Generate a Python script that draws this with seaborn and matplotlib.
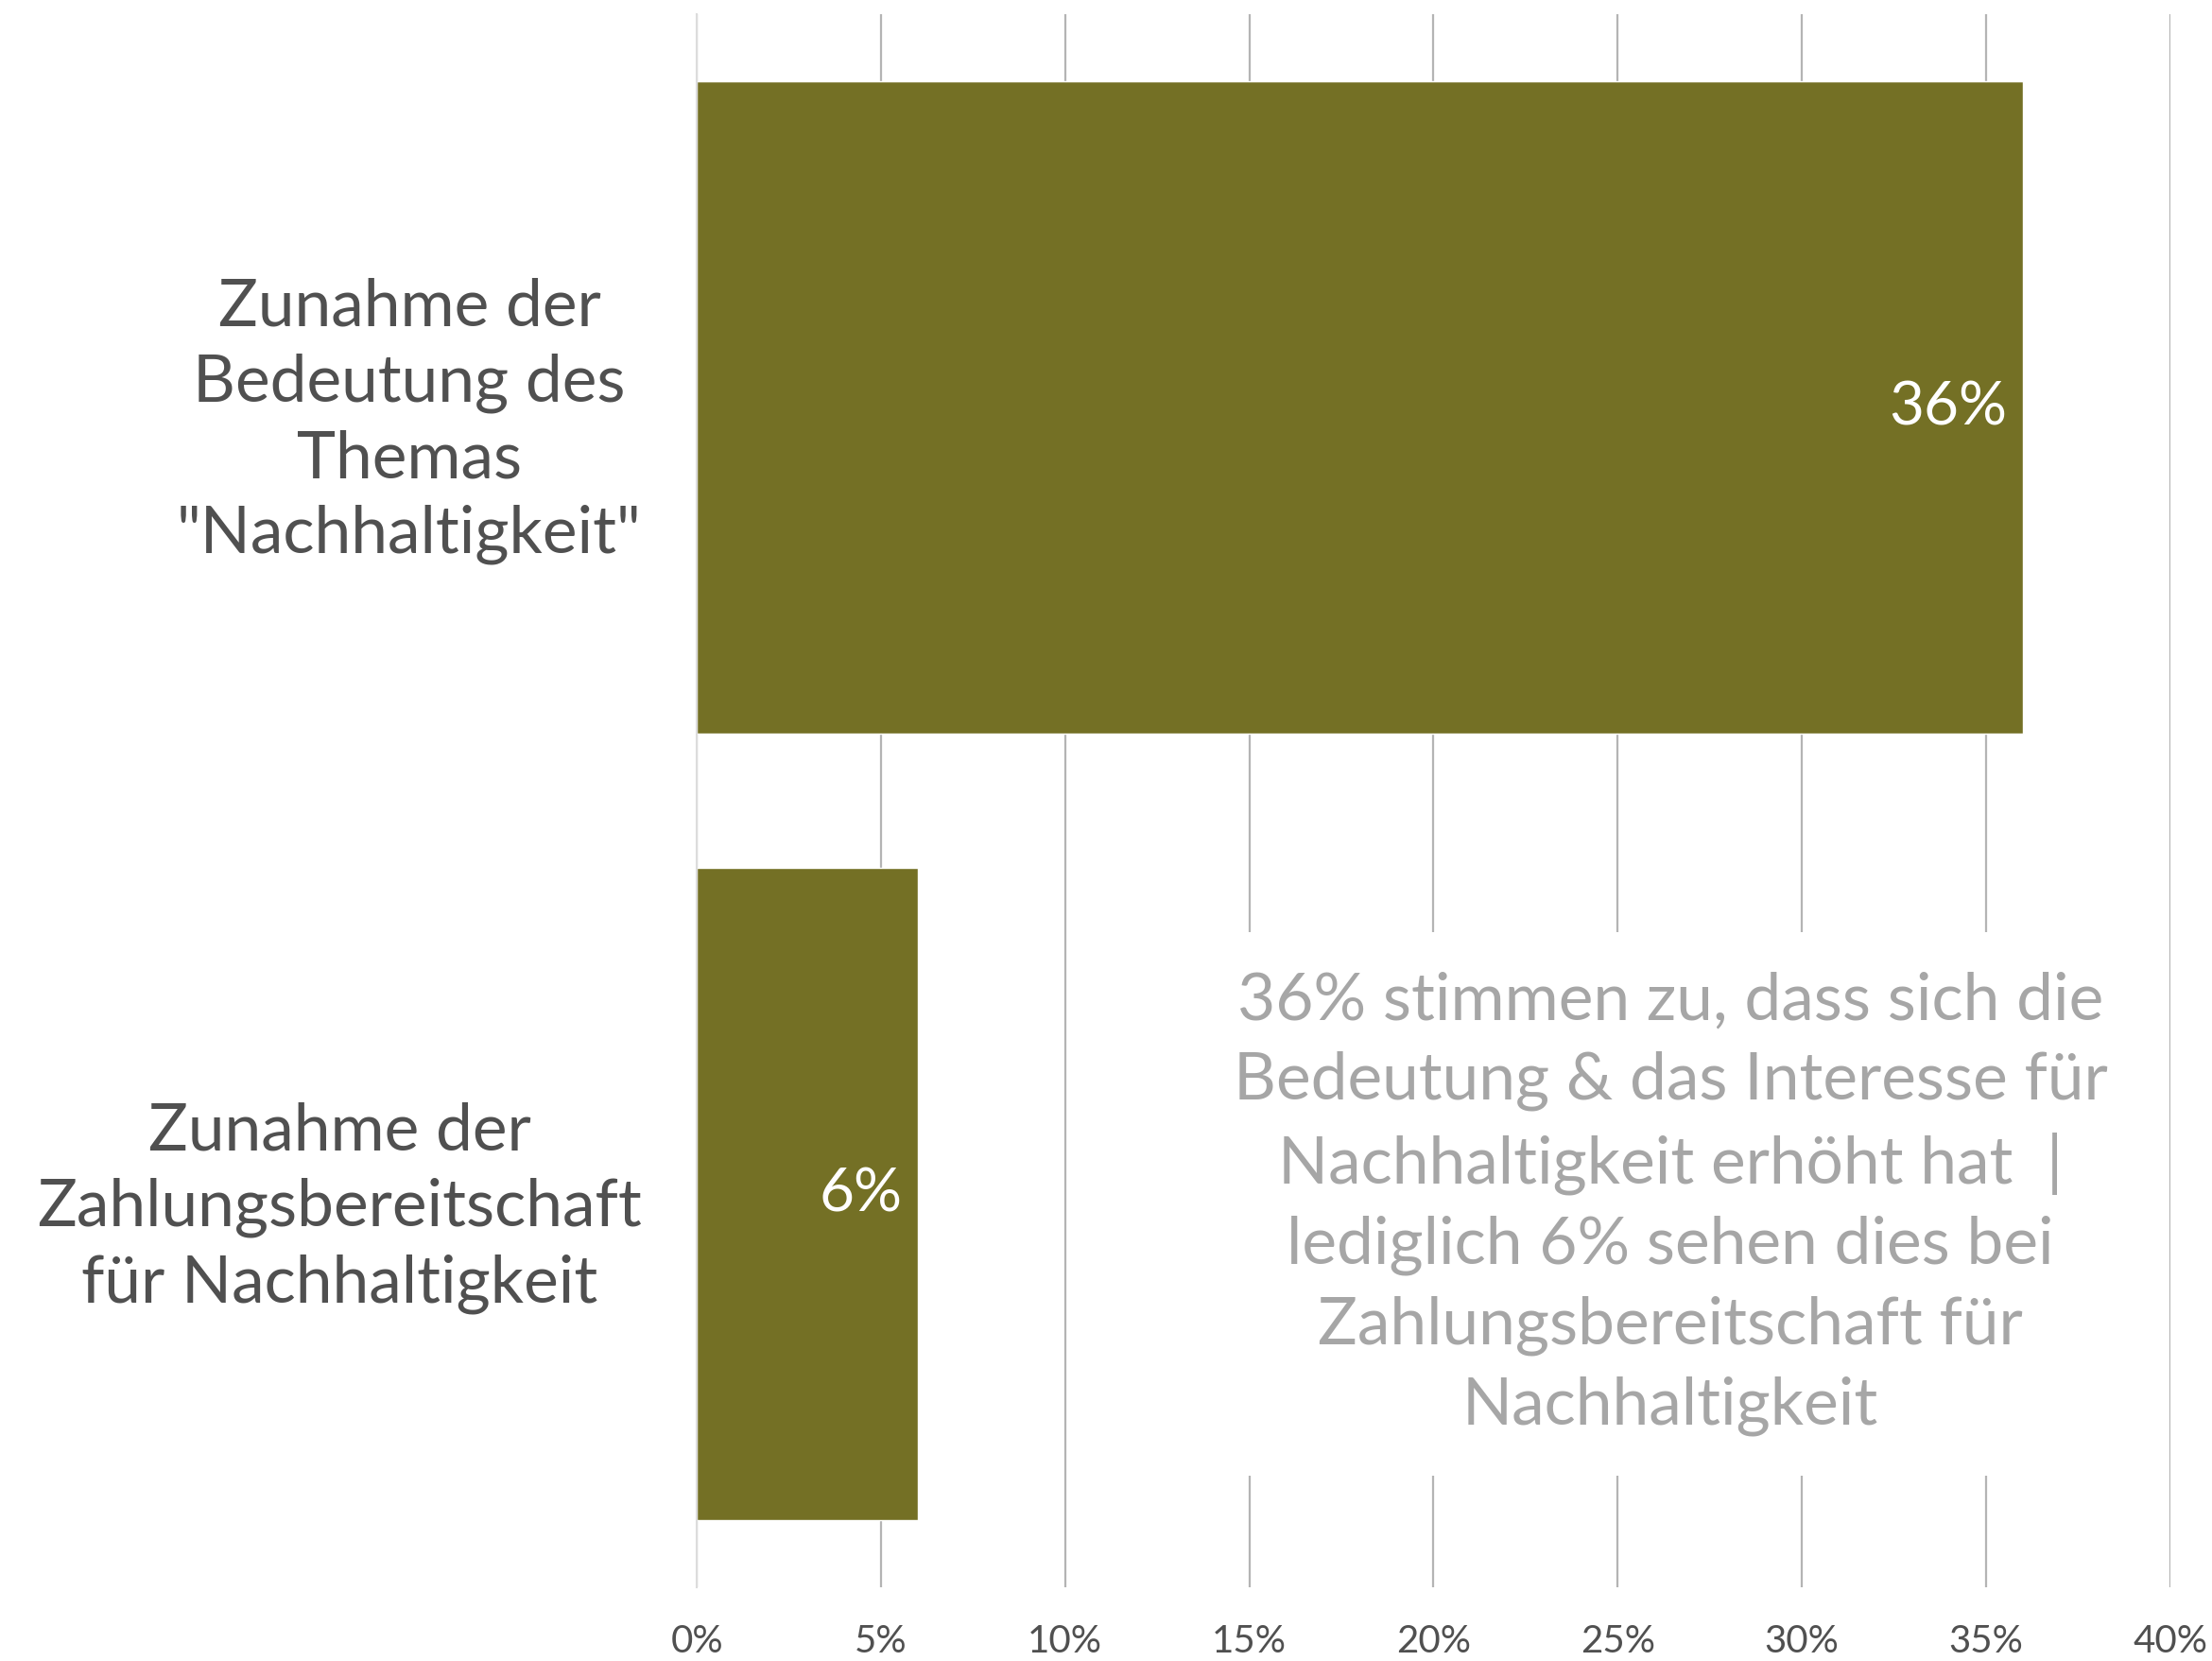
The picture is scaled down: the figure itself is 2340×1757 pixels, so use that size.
import matplotlib.pyplot as plt
import pandas as pd
import seaborn as sns

categories = [
    'Zunahme der\nBedeutung des\nThemas\n"Nachhaltigkeit"',
    'Zunahme der\nZahlungsbereitschaft\nfür Nachhaltigkeit',
]
shares = [36, 6]
value_labels = ["36%", "6%"]
x_ticks = [0, 5, 10, 15, 20, 25, 30, 35, 40]
x_tick_labels = ["0%", "5%", "10%", "15%", "20%", "25%", "30%", "35%", "40%"]
note = ("36% stimmen zu, dass sich die\n"
        "Bedeutung & das Interesse für\n"
        "Nachhaltigkeit erhöht hat  |\n"
        "lediglich 6% sehen dies bei\n"
        "Zahlungsbereitschaft für\n"
        "Nachhaltigkeit")

BAR = "#747025"
DARK = "#505050"
NOTE = "#a6a6a6"

sns.set_style("white")
plt.rcParams["font.family"] = ["Lato", "DejaVu Sans"]

df = pd.DataFrame({"category": categories, "share": shares})

fig = plt.figure(figsize=(23.4, 17.57), dpi=100)
ax = fig.add_axes([0.315, 0.0444, 0.666, 0.947])

sns.barplot(data=df, x="share", y="category", orient="h", color=BAR,
            saturation=1, width=0.83, ax=ax, zorder=2)

ax.set_xlim(0, 40)
ax.set_ylim(1.5, -0.5)
ax.set_xticks(x_ticks)
ax.set_xticklabels(x_tick_labels, fontsize=29, color=DARK)
ax.tick_params(axis="x", length=0, pad=28)
ax.tick_params(axis="y", length=0, pad=42)
for lbl in ax.get_yticklabels():
    lbl.set_fontsize(50)
    lbl.set_color(DARK)
    lbl.set_multialignment("center")
    lbl.set_linespacing(1.33)

ax.xaxis.grid(True, color="#b4b4b4", linewidth=1.6, zorder=0)
ax.set_axisbelow(True)
for side in ["top", "right", "bottom"]:
    ax.spines[side].set_visible(False)
ax.spines["left"].set_color("#dcdcdc")
ax.spines["left"].set_linewidth(1.5)
ax.set_xlabel("")
ax.set_ylabel("")

for i, (v, txt) in enumerate(zip(shares, value_labels)):
    ax.annotate(txt, xy=(v, i), xytext=(-12, 0), textcoords="offset points",
                ha="right", va="center", fontsize=46, color="white", zorder=3)

ax.text(0.661, 0.244, note, transform=ax.transAxes, ha="center", va="center",
        fontsize=50, color=NOTE, linespacing=1.42, zorder=4,
        bbox=dict(boxstyle="square,pad=0.6", facecolor="white", edgecolor="none"))

fig.savefig("out.png", dpi=100)
